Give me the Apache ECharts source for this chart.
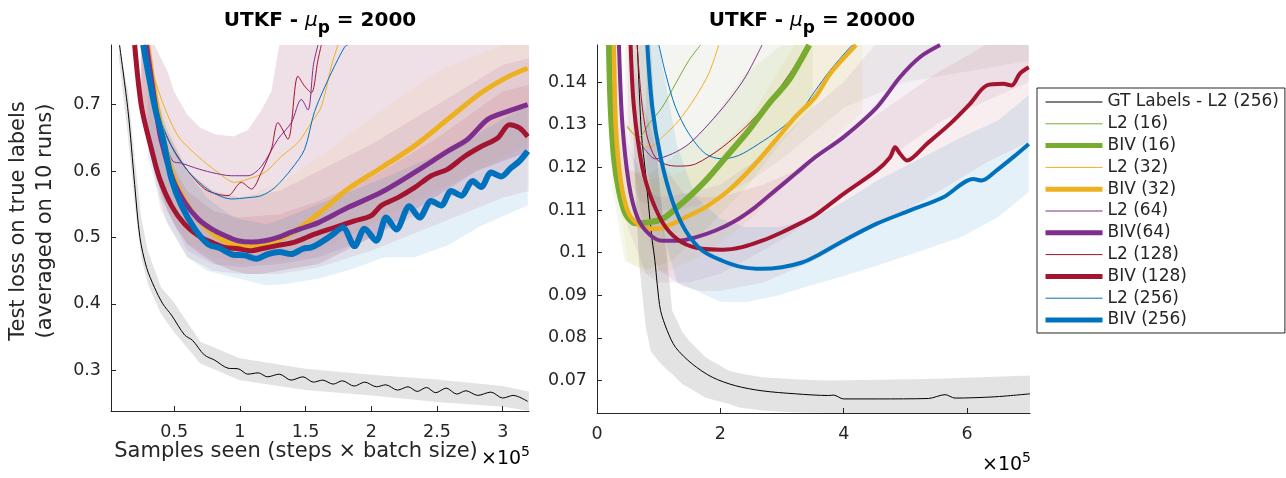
<!DOCTYPE html>
<html><head><meta charset="utf-8">
<script src="https://cdn.jsdelivr.net/npm/echarts@6/dist/echarts.min.js"></script>
<style>html,body{margin:0;padding:0;background:#fff}#c{width:1286px;height:478px}</style>
</head><body><div id="c"></div>
<script>
// ---------- tick labels ----------
const L_XTICKS = [0.5, 1, 1.5, 2, 2.5, 3];
const L_YTICKS = [0.3, 0.4, 0.5, 0.6, 0.7];
const R_XTICKS = [0, 2, 4, 6];
const R_YTICKS = [0.07, 0.08, 0.09, 0.1, 0.11, 0.12, 0.13, 0.14];
const TITLES = ['2000', '20000'];
const NAMES = ['GT Labels - L2 (256)', 'L2 (16)', 'BIV (16)', 'L2 (32)', 'BIV (32)', 'L2 (64)', 'BIV(64)', 'L2 (128)', 'BIV (128)', 'L2 (256)', 'BIV (256)'];
const X_NAME = 'Samples seen (steps \u00d7 batch size)';
const Y_NAME = ['Test loss on true labels', '(averaged on 10 runs)'];

// ---------- left panel (mu_p = 2000), [samples x1e5, loss] ----------
const L_GT = [[0.085,0.79],[0.15,0.69],[0.2,0.58],[0.24,0.5],[0.29,0.455],[0.35,0.425],[0.414,0.40],[0.48,0.383],[0.58,0.353],[0.64,0.345],[0.73,0.323],[0.81,0.315],[0.91,0.303],[0.99,0.302],[1.06,0.294],[1.14,0.296],[1.21,0.29],[1.30,0.294],[1.39,0.285],[1.48,0.29],[1.56,0.282],[1.63,0.285],[1.71,0.279],[1.78,0.284],[1.87,0.276],[1.95,0.282],[2.04,0.275],[2.11,0.278],[2.20,0.27],[2.28,0.275],[2.35,0.268],[2.42,0.274],[2.49,0.266],[2.57,0.273],[2.65,0.264],[2.72,0.269],[2.81,0.262],[2.91,0.267],[3.0,0.258],[3.08,0.262],[3.19,0.253]];
const L_L2_32 = [[0.27,0.79],[0.302,0.772],[0.404,0.708],[0.53,0.653],[0.682,0.622],[0.834,0.598],[0.961,0.583],[1.062,0.588],[1.19,0.598],[1.316,0.622],[1.442,0.643],[1.544,0.673],[1.62,0.697],[1.696,0.758],[1.746,0.79]];
const L_BIV_32 = [[0.30,0.79],[0.36,0.71],[0.43,0.64],[0.5,0.59],[0.6,0.55],[0.7,0.523],[0.8,0.505],[0.9,0.493],[1.0,0.487],[1.1,0.487],[1.2,0.49],[1.3,0.497],[1.4,0.507],[1.493,0.52],[1.594,0.535],[1.822,0.573],[2.076,0.605],[2.329,0.638],[2.582,0.678],[2.836,0.718],[3.038,0.742],[3.19,0.755]];
const L_L2_64 = [[0.27,0.79],[0.33,0.72],[0.43,0.648],[0.49,0.615],[0.556,0.612],[0.657,0.605],[0.784,0.598],[0.936,0.593],[1.062,0.593],[1.164,0.607],[1.29,0.648],[1.392,0.673],[1.468,0.708],[1.518,0.692],[1.56,0.76],[1.594,0.79]];
const L_BIV_64 = [[0.29,0.79],[0.34,0.722],[0.40,0.648],[0.49,0.588],[0.581,0.553],[0.682,0.528],[0.784,0.513],[0.885,0.503],[0.986,0.495],[1.088,0.493],[1.19,0.495],[1.29,0.5],[1.392,0.508],[1.493,0.515],[1.594,0.522],[1.822,0.545],[2.076,0.568],[2.329,0.598],[2.582,0.63],[2.734,0.648],[2.886,0.678],[3.038,0.69],[3.19,0.7]];
const L_L2_128 = [[0.25,0.79],[0.302,0.748],[0.404,0.673],[0.48,0.638],[0.606,0.6],[0.733,0.573],[0.834,0.565],[0.91,0.563],[1.012,0.583],[1.088,0.573],[1.164,0.598],[1.24,0.633],[1.29,0.673],[1.366,0.648],[1.442,0.743],[1.493,0.728],[1.544,0.718],[1.594,0.767],[1.62,0.79]];
const L_BIV_128 = [[0.2,0.79],[0.252,0.697],[0.328,0.633],[0.391,0.588],[0.48,0.548],[0.58,0.52],[0.682,0.503],[0.784,0.493],[0.885,0.485],[0.986,0.483],[1.088,0.48],[1.164,0.483],[1.29,0.488],[1.417,0.493],[1.569,0.505],[1.72,0.515],[1.873,0.525],[2.0,0.533],[2.076,0.548],[2.202,0.56],[2.329,0.575],[2.456,0.593],[2.582,0.603],[2.709,0.622],[2.836,0.637],[2.962,0.65],[3.051,0.67],[3.127,0.665],[3.19,0.652]];
const L_L2_256 = [[0.29,0.79],[0.353,0.722],[0.416,0.667],[0.505,0.628],[0.606,0.6],[0.708,0.58],[0.809,0.566],[0.936,0.558],[1.062,0.56],[1.164,0.563],[1.265,0.575],[1.392,0.603],[1.493,0.633],[1.569,0.69],[1.696,0.748],[1.797,0.787],[1.82,0.79]];
const L_BIV_256 = [[0.265,0.79],[0.353,0.697],[0.416,0.648],[0.48,0.588],[0.556,0.548],[0.657,0.513],[0.758,0.49],[0.847,0.484],[0.948,0.474],[1.037,0.473],[1.126,0.468],[1.214,0.475],[1.303,0.478],[1.39,0.475],[1.48,0.483],[1.544,0.485],[1.62,0.493],[1.696,0.503],[1.784,0.515],[1.873,0.487],[1.949,0.513],[2.038,0.495],[2.114,0.53],[2.19,0.512],[2.29,0.547],[2.367,0.53],[2.456,0.555],[2.532,0.548],[2.608,0.57],[2.684,0.563],[2.772,0.585],[2.836,0.576],[2.912,0.598],[2.988,0.592],[3.064,0.605],[3.127,0.615],[3.19,0.63]];

// left shaded bands: x, lower, upper
const LB_GT_X = [0.08,0.15,0.2,0.25,0.3,0.4,0.5,0.7,1.0,1.5,2.0,2.5,3.0,3.2];
const LB_GT_LO = [0.77,0.65,0.55,0.47,0.43,0.385,0.357,0.31,0.285,0.27,0.262,0.252,0.245,0.239];
const LB_GT_HI = [0.79,0.72,0.62,0.53,0.48,0.425,0.402,0.343,0.318,0.302,0.293,0.286,0.276,0.268];
const LB_L2_X = [0.25,0.35,0.45,0.5,0.6,0.7,0.82,0.95,1.06,1.16,1.24,1.3,1.6,2.0,2.4,2.8,3.2];
const LB_L2_LO = [0.70,0.60,0.54,0.52,0.49,0.475,0.46,0.45,0.445,0.445,0.448,0.45,0.46,0.5,0.55,0.6,0.63];
const LB_L2_HI = [0.79,0.79,0.75,0.72,0.685,0.665,0.655,0.652,0.662,0.69,0.72,0.79,0.79,0.79,0.79,0.79,0.79];
const LB_256_X = [0.3,0.45,0.6,0.75,0.95,1.2,1.35,1.6,1.85,2.1,2.33,2.58,2.84,3.19];
const LB_256_LO = [0.62,0.52,0.47,0.45,0.44,0.428,0.43,0.438,0.452,0.47,0.47,0.488,0.518,0.548];
const LB_256_HI = [0.76,0.66,0.6,0.56,0.53,0.52,0.53,0.55,0.57,0.59,0.61,0.63,0.66,0.7];
const LB_BIV_X = [0.25,0.4,0.6,0.8,1.0,1.3,1.6,2.0,2.5,3.0,3.2];
const LB_128_LO = [0.7,0.54,0.47,0.45,0.445,0.445,0.455,0.48,0.52,0.56,0.57];
const LB_128_HI = [0.79,0.64,0.57,0.54,0.53,0.535,0.555,0.59,0.65,0.72,0.73];
const LB_64_LO = [0.72,0.56,0.48,0.46,0.455,0.46,0.47,0.5,0.55,0.6,0.62];
const LB_64_HI = [0.79,0.68,0.6,0.57,0.56,0.57,0.6,0.64,0.7,0.76,0.77];
const LB_32_LO = [0.72,0.56,0.49,0.47,0.46,0.465,0.48,0.52,0.57,0.62,0.64];
const LB_32_HI = [0.79,0.7,0.6,0.57,0.56,0.58,0.62,0.68,0.75,0.79,0.79];

// ---------- right panel (mu_p = 20000) ----------
const R_GT = [[0.654,0.1487],[0.72,0.128],[0.788,0.1185],[0.85,0.109],[0.896,0.1028],[0.939,0.0981],[0.977,0.0925],[1.031,0.0864],[1.139,0.0817],[1.273,0.0778],[1.544,0.0739],[1.867,0.0708],[2.244,0.0688],[2.676,0.0676],[3.215,0.0669],[3.754,0.0665],[3.835,0.0666],[3.997,0.0657],[4.563,0.0657],[5.372,0.0658],[5.643,0.0667],[5.804,0.0659],[6.452,0.0662],[7.02,0.0669]];
const R_L2_16 = [[0.49,0.1294],[0.58,0.128],[0.68,0.1271],[0.841,0.1302],[1.058,0.1341],[1.273,0.1396],[1.49,0.1451],[1.68,0.1487]];
const R_BIV_16 = [[0.194,0.1487],[0.222,0.1341],[0.275,0.1224],[0.356,0.1146],[0.464,0.1091],[0.626,0.1069],[0.841,0.1071],[1.058,0.1079],[1.273,0.1103],[1.544,0.1138],[1.812,0.1177],[2.136,0.1232],[2.46,0.1287],[2.783,0.1349],[3.107,0.1404],[3.44,0.1487]];
const R_L2_32 = [[0.49,0.1298],[0.68,0.1263],[0.841,0.1247],[1.058,0.1271],[1.327,0.131],[1.597,0.1365],[1.812,0.142],[1.974,0.1487]];
const R_BIV_32 = [[0.275,0.1487],[0.303,0.1302],[0.384,0.1169],[0.518,0.1091],[0.735,0.106],[0.95,0.1056],[1.165,0.1064],[1.435,0.1083],[1.759,0.1107],[2.136,0.1146],[2.515,0.12],[2.892,0.1263],[3.215,0.1318],[3.539,0.1365],[3.782,0.142],[4.2,0.1487]];
const R_L2_64 = [[0.70,0.126],[0.788,0.124],[0.95,0.122],[1.22,0.1232],[1.49,0.1255],[1.812,0.1302],[2.136,0.1357],[2.406,0.1412],[2.676,0.1487]];
const R_BIV_64 = [[0.356,0.1487],[0.411,0.1302],[0.518,0.1161],[0.654,0.1083],[0.841,0.1044],[1.058,0.1028],[1.327,0.1028],[1.597,0.1036],[1.921,0.1052],[2.244,0.1075],[2.568,0.1107],[2.892,0.1146],[3.215,0.1185],[3.539,0.1224],[3.997,0.1271],[4.537,0.1341],[4.914,0.1412],[5.238,0.1459],[5.562,0.1487]];
const R_L2_128 = [[0.65,0.1487],[0.72,0.136],[0.8,0.128],[0.9,0.1235],[1.0,0.1215],[1.165,0.1205],[1.35,0.1203],[1.597,0.1208],[2.03,0.1247],[2.46,0.1302],[2.892,0.1373],[3.27,0.1451],[3.43,0.1487]];
const R_BIV_128 = [[0.545,0.1487],[0.599,0.1341],[0.735,0.12],[0.896,0.1122],[1.112,0.106],[1.382,0.1024],[1.706,0.1009],[2.03,0.1007],[2.353,0.1013],[2.676,0.1028],[3.0,0.1048],[3.324,0.1071],[3.539,0.1088],[3.997,0.1138],[4.537,0.1193],[4.752,0.1224],[4.833,0.1247],[4.914,0.1232],[5.023,0.1216],[5.346,0.1255],[5.723,0.1302],[6.047,0.1349],[6.317,0.1392],[6.586,0.1396],[6.722,0.1392],[6.856,0.142],[7.0,0.1435]];
const R_L2_256 = [[1.003,0.1487],[1.112,0.142],[1.273,0.1341],[1.49,0.1279],[1.759,0.1232],[2.03,0.122],[2.298,0.1228],[2.62,0.1255],[2.945,0.1287],[3.27,0.1326],[3.539,0.138],[3.782,0.1428],[4.105,0.1482],[4.15,0.1487]];
const R_BIV_256 = [[0.815,0.1487],[0.896,0.1341],[1.031,0.1224],[1.22,0.1122],[1.435,0.1052],[1.706,0.1005],[2.03,0.0981],[2.353,0.0966],[2.676,0.0962],[3.0,0.0966],[3.324,0.0977],[3.539,0.0991],[3.997,0.1028],[4.537,0.1068],[5.076,0.1099],[5.615,0.113],[6.1,0.1173],[6.236,0.1169],[6.479,0.1193],[6.748,0.1224],[7.0,0.1255]];

// right shaded bands
const RB_GT_X = [0.55,0.62,0.68,0.79,0.87,1.0,1.14,1.22,1.38,1.49,1.76,2.14,2.3,2.68,3.2,3.75,5.37,7.02];
const RB_GT_LO = [0.1487,0.115,0.098,0.0825,0.077,0.0745,0.0725,0.0715,0.0692,0.0683,0.066,0.0645,0.0637,0.063,0.0625,0.0624,0.0624,0.0624];
const RB_GT_HI = [0.1487,0.1487,0.1487,0.1487,0.1487,0.118,0.098,0.0864,0.0815,0.0794,0.0755,0.0723,0.0717,0.0708,0.0703,0.070,0.0704,0.0712];
const RB_L2_X = [0.45,0.7,1.0,1.3,1.6,2.0,2.5,3.0,3.5,4.0,5.0,7.0];
const RB_L2_LO = [0.12,0.112,0.11,0.11,0.111,0.113,0.117,0.122,0.128,0.134,0.14,0.145];
const RB_L2_HI = [0.1487,0.1487,0.1487,0.1487,0.1487,0.1487,0.1487,0.1487,0.1487,0.1487,0.1487,0.1487];
const RB_256_X = [0.8,1.0,1.3,1.6,2.0,2.4,2.95,3.5,4.0,4.55,5.1,5.9,6.5,7.0];
const RB_256_LO = [0.12,0.108,0.093,0.0911,0.0885,0.0884,0.09,0.0925,0.0945,0.097,0.0997,0.1036,0.1083,0.1142];
const RB_256_HI = [0.1487,0.1487,0.125,0.113,0.108,0.106,0.106,0.108,0.112,0.117,0.121,0.127,0.131,0.137];
const RB_128_X = [0.5,0.7,1.0,1.4,1.7,2.0,2.7,3.5,4.5,5.5,6.3,7.0];
const RB_128_LO = [0.13,0.11,0.096,0.092,0.091,0.091,0.093,0.098,0.106,0.114,0.121,0.126];
const RB_128_HI = [0.1487,0.138,0.122,0.114,0.113,0.113,0.116,0.121,0.132,0.142,0.1487,0.1487];
const RB_64_X = [0.3,0.5,0.8,1.0,1.5,2.0,2.5,3.0,3.5,4.0,4.5,5.0,5.6,7.0];
const RB_64_LO = [0.13,0.106,0.095,0.093,0.093,0.095,0.099,0.103,0.108,0.113,0.119,0.125,0.131,0.14];
const RB_64_HI = [0.1487,0.126,0.115,0.113,0.114,0.116,0.121,0.127,0.134,0.14,0.1487,0.1487,0.1487,0.1487];
const RB_32_X = [0.2,0.3,0.5,0.8,1.2,1.8,2.5,3.2,3.8,4.3];
const RB_32_LO = [0.14,0.118,0.098,0.095,0.096,0.1,0.108,0.118,0.126,0.133];
const RB_32_HI = [0.1487,0.145,0.12,0.117,0.118,0.122,0.132,0.1487,0.1487,0.1487];
const RB_16_X = [0.15,0.25,0.45,0.8,1.2,1.8,2.4,3.0,3.5];
const RB_16_LO = [0.14,0.115,0.098,0.096,0.098,0.106,0.115,0.126,0.134];
const RB_16_HI = [0.1487,0.135,0.12,0.118,0.122,0.13,0.142,0.1487,0.1487];

const C = {k:'#000000', g:'#77AC30', y:'#EDB120', p:'#7E2F8E', r:'#A2142F', b:'#0072BD'};
const FONT = 'DejaVu Sans';
const AX = '#262626';

function band(gi, xs, lo, hi, fill) {
  return {
    type: 'custom', xAxisIndex: gi, yAxisIndex: gi, silent: true, z: 1,
    data: [[xs[0], lo[0]]],
    renderItem: function (params, api) {
      const pts = [];
      for (let i = 0; i < xs.length; i++) pts.push(api.coord([xs[i], hi[i]]));
      for (let i = xs.length - 1; i >= 0; i--) pts.push(api.coord([xs[i], lo[i]]));
      const cs = params.coordSys;
      const clipped = echarts.graphic.clipPointsByRect(pts, {x: cs.x, y: cs.y, width: cs.width, height: cs.height});
      return {type: 'polygon', shape: {points: clipped}, style: {fill: fill}};
    }
  };
}
function line(gi, name, data, color, width, z) {
  return {type: 'line', name: name, xAxisIndex: gi, yAxisIndex: gi, data: data, symbol: 'none', smooth: 0.3,
    lineStyle: {color: color, width: width}, itemStyle: {color: color}, z: z || 3, animation: false, clip: true};
}

const series = [
  band(0, LB_L2_X, LB_L2_LO, LB_L2_HI, 'rgba(162,20,47,0.09)'),
  band(0, LB_L2_X, LB_L2_LO, LB_L2_HI, 'rgba(126,47,142,0.06)'),
  band(0, LB_BIV_X, LB_32_LO, LB_32_HI, 'rgba(237,177,32,0.08)'),
  band(0, LB_BIV_X, LB_64_LO, LB_64_HI, 'rgba(126,47,142,0.09)'),
  band(0, LB_BIV_X, LB_128_LO, LB_128_HI, 'rgba(162,20,47,0.09)'),
  band(0, LB_256_X, LB_256_LO, LB_256_HI, 'rgba(0,114,189,0.10)'),
  band(0, LB_GT_X, LB_GT_LO, LB_GT_HI, 'rgba(0,0,0,0.11)'),
  line(0, NAMES[3], L_L2_32, C.y, 1),
  line(0, NAMES[5], L_L2_64, C.p, 1),
  line(0, NAMES[7], L_L2_128, C.r, 1),
  line(0, NAMES[9], L_L2_256, C.b, 1),
  line(0, NAMES[4], L_BIV_32, C.y, 5),
  line(0, NAMES[6], L_BIV_64, C.p, 5),
  line(0, NAMES[8], L_BIV_128, C.r, 5),
  line(0, NAMES[10], L_BIV_256, C.b, 6),
  line(0, NAMES[0], L_GT, C.k, 1, 4),

  band(1, RB_L2_X, RB_L2_LO, RB_L2_HI, 'rgba(150,160,120,0.10)'),
  band(1, RB_16_X, RB_16_LO, RB_16_HI, 'rgba(119,172,48,0.09)'),
  band(1, RB_32_X, RB_32_LO, RB_32_HI, 'rgba(237,177,32,0.09)'),
  band(1, RB_64_X, RB_64_LO, RB_64_HI, 'rgba(126,47,142,0.08)'),
  band(1, RB_128_X, RB_128_LO, RB_128_HI, 'rgba(162,20,47,0.08)'),
  band(1, RB_256_X, RB_256_LO, RB_256_HI, 'rgba(0,114,189,0.10)'),
  band(1, RB_GT_X, RB_GT_LO, RB_GT_HI, 'rgba(0,0,0,0.11)'),
  line(1, NAMES[1], R_L2_16, C.g, 1),
  line(1, NAMES[3], R_L2_32, C.y, 1),
  line(1, NAMES[5], R_L2_64, C.p, 1),
  line(1, NAMES[7], R_L2_128, C.r, 1),
  line(1, NAMES[9], R_L2_256, C.b, 1),
  line(1, NAMES[2], R_BIV_16, C.g, 6),
  line(1, NAMES[4], R_BIV_32, C.y, 4.5),
  line(1, NAMES[6], R_BIV_64, C.p, 4),
  line(1, NAMES[8], R_BIV_128, C.r, 4),
  line(1, NAMES[10], R_BIV_256, C.b, 4),
  line(1, NAMES[0], R_GT, C.k, 1, 2)
];

const axisCommon = {
  axisLine: {show: true, lineStyle: {color: AX, width: 1}},
  axisTick: {show: true, inside: true, length: 5, lineStyle: {color: AX}},
  axisLabel: {color: AX, fontSize: 17.5, fontFamily: FONT},
  splitLine: {show: false}
};
function xa(gi, min, max, ticks) {
  return Object.assign({}, axisCommon, {type: 'value', gridIndex: gi, min: min, max: max,
    axisTick: Object.assign({}, axisCommon.axisTick, {customValues: ticks}),
    axisLabel: Object.assign({}, axisCommon.axisLabel, {customValues: ticks, margin: 12})});
}
function ya(gi, min, max, ticks) {
  return Object.assign({}, axisCommon, {type: 'value', gridIndex: gi, min: min, max: max,
    axisTick: Object.assign({}, axisCommon.axisTick, {customValues: ticks}),
    axisLabel: Object.assign({}, axisCommon.axisLabel, {customValues: ticks, margin: 10})});
}

const legendData = NAMES.map(function (n) {
  const thick = n.indexOf('BIV') === 0;
  return {name: n, lineStyle: {width: thick ? 5 : 1}, itemStyle: {opacity: 0}};
});

const titleRich = {
  b: {fontFamily: FONT, fontWeight: 'bold', fontSize: 20, color: '#000'},
  m: {fontFamily: FONT, fontStyle: 'italic', fontSize: 20, color: '#000'},
  s: {fontFamily: FONT, fontWeight: 'bold', fontSize: 17, color: '#000', padding: [16, 0, 0, 0]}
};
const expRich = {
  a: {fontFamily: FONT, fontSize: 19, color: AX},
  e: {fontFamily: FONT, fontSize: 14, color: AX, padding: [0, 0, 14, 0]}
};
const nameStyle = {fontFamily: FONT, fontSize: 21, fill: AX, align: 'center', verticalAlign: 'middle'};

const option = {
  animation: false,
  backgroundColor: '#fff',
  textStyle: {fontFamily: FONT},
  grid: [
    {left: 111, top: 45, width: 418, height: 366},
    {left: 597, top: 45, width: 433, height: 368}
  ],
  xAxis: [xa(0, 0.02, 3.2, L_XTICKS), xa(1, 0, 7.02, R_XTICKS)],
  yAxis: [ya(0, 0.2385, 0.79, L_YTICKS), ya(1, 0.0624, 0.1487, R_YTICKS)],
  legend: {
    orient: 'vertical', left: 1037, top: 88, itemWidth: 57, itemHeight: 14, itemGap: 3.8,
    padding: [5, 6, 4, 6], borderColor: AX, borderWidth: 1, backgroundColor: '#fff',
    textStyle: {fontSize: 17, lineHeight: 18, color: AX, fontFamily: FONT},
    itemStyle: {opacity: 0},
    selectedMode: false,
    data: legendData
  },
  graphic: [
    {type: 'text', x: 320, y: 21, style: {text: '{b|UTKF - }{m|\u03bc}{s|p}{b| = ' + TITLES[0] + '}', rich: titleRich, align: 'center', verticalAlign: 'middle'}},
    {type: 'text', x: 812, y: 21, style: {text: '{b|UTKF - }{m|\u03bc}{s|p}{b| = ' + TITLES[1] + '}', rich: titleRich, align: 'center', verticalAlign: 'middle'}},
    {type: 'text', x: 530, y: 459, style: {text: '{a|\u00d710}{e|5}', rich: expRich, align: 'right', verticalAlign: 'middle'}},
    {type: 'text', x: 1031, y: 465, style: {text: '{a|\u00d710}{e|5}', rich: expRich, align: 'right', verticalAlign: 'middle'}},
    {type: 'text', x: 296, y: 452, style: Object.assign({text: X_NAME}, nameStyle)},
    {type: 'text', x: 19, y: 221, rotation: Math.PI / 2, style: Object.assign({text: Y_NAME[0]}, nameStyle)},
    {type: 'text', x: 45.5, y: 221, rotation: Math.PI / 2, style: Object.assign({text: Y_NAME[1]}, nameStyle)}
  ],
  series: series
};

const chart = echarts.init(document.getElementById('c'), null, {renderer: 'canvas'});
chart.setOption(option);
</script>
</body></html>
